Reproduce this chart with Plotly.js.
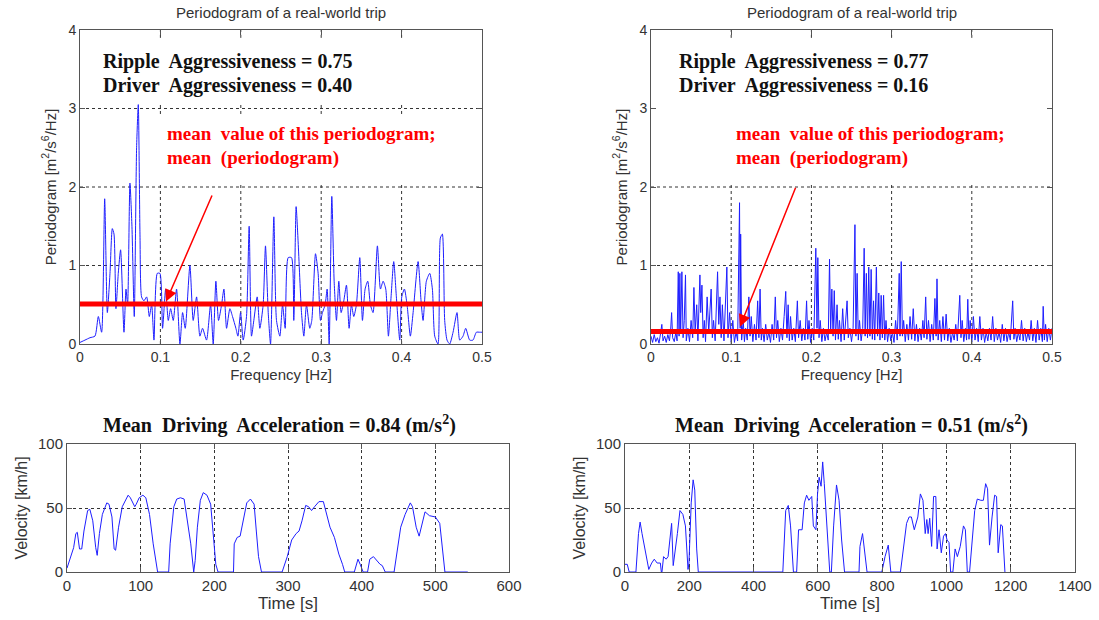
<!DOCTYPE html>
<html>
<head>
<meta charset="utf-8">
<script src="https://cdn.plot.ly/plotly-3.0.1.min.js"></script>
<style>html,body{margin:0;padding:0;background:#fff;} #chart{width:1099px;height:620px;}</style>
</head>
<body>
<div id="chart"></div>
<script>
// ---------- Data: periodogram of trip A (left) ----------
const freqA = [0,0.0062,0.0124,0.0186,0.0228,0.0269,0.0307,0.0340,0.0373,0.0402,
0.0423,0.0447,0.0476,0.0505,0.0547,0.0572,0.0592,0.0621,0.0646,0.0675,
0.0704,0.0725,0.0746,0.0766,0.0795,0.0829,0.0862,0.0891,0.0920,0.0961,
0.0994,0.1027,0.1065,0.1098,0.1127,0.1160,0.1201,0.1243,0.1276,0.1309,
0.1367,0.1408,0.1450,0.1491,0.1524,0.1574,0.1624,0.1657,0.1690,0.1723,
0.1761,0.1790,0.1823,0.1864,0.1897,0.1939,0.1964,0.1997,0.2030,0.2071,
0.2104,0.2133,0.2162,0.2204,0.2237,0.2278,0.2307,0.2341,0.2370,0.2411,
0.2444,0.2486,0.2519,0.2552,0.2589,0.2631,0.2659,0.2688,0.2713,0.2755,
0.2784,0.2817,0.2858,0.2883,0.2929,0.2962,0.2991,0.3016,0.3049,0.3074,
0.3099,0.3132,0.3161,0.3190,0.3219,0.3248,0.3281,0.3314,0.3347,0.3376,
0.3405,0.3438,0.3480,0.3513,0.3546,0.3579,0.3612,0.3645,0.3699,0.3737,
0.3770,0.3803,0.3836,0.3869,0.3902,0.3935,0.3977,0.4002,0.4035,0.4068,
0.4109,0.4143,0.4205,0.4242,0.4267,0.4308,0.4350,0.4383,0.4412,0.4453,
0.4482,0.4507,0.4536,0.4565,0.4598,0.4640,0.4689,0.4723,0.4764,0.4797,
0.4847,0.4888,0.4930,0.4971,0.5];
const psdA = [0.02,0.05,0.08,0.10,0.35,0.15,1.85,0.40,0.90,1.47,
1.40,0.45,0.90,1.20,0.15,0.70,0.50,2.05,1.50,0.35,
2.50,3.05,1.40,0.60,0.55,0.60,0.35,0.50,0.05,0.90,
0.90,0.20,0.70,0.30,0.45,0.30,0.70,0.00,0.40,0.20,
1.00,0.30,0.60,0.10,0.20,0.05,0.50,0.00,0.80,0.30,
0.50,0.70,0.20,0.45,0.35,0.20,0.10,0.40,0.05,0.35,
1.50,0.10,0.30,0.60,0.20,0.50,1.25,0.40,0.00,1.62,
0.30,0.10,0.50,0.20,1.10,1.10,0.30,1.75,1.30,0.40,
0.10,0.50,0.20,0.30,1.15,0.90,0.30,0.40,0.50,0.70,
0.00,1.88,0.80,0.30,0.80,0.40,0.55,0.75,0.20,0.50,
0.35,0.50,1.10,0.30,0.70,0.80,0.50,0.40,1.25,0.70,
0.80,0.70,0.10,0.60,1.05,0.60,0.05,0.60,0.70,0.50,
0.10,0.40,1.05,0.55,0.30,0.80,0.90,0.70,0.10,0.00,
1.35,1.40,0.30,0.05,0.00,0.15,0.40,0.05,0.10,0.20,
0.05,0.05,0.15,0.15,0.15];
const meanA = 0.51;

// ---------- Data: periodogram of trip B (right) ----------
const freqB = [0.000,0.002,0.004,0.006,0.008,0.010,0.012,0.0135,0.015,0.017,
0.019,0.021,0.023,0.0245,0.0257,0.027,0.029,0.031,0.0325,0.034,
0.035,0.036,0.037,0.0385,0.040,0.0415,0.043,0.044,0.046,0.048,
0.050,0.052,0.0535,0.055,0.057,0.0585,0.061,0.062,0.0635,0.065,
0.0665,0.068,0.070,0.072,0.075,0.0765,0.078,0.080,0.083,0.0845,
0.086,0.0875,0.089,0.091,0.0946,0.096,0.098,0.100,0.102,0.104,
0.106,0.108,0.1104,0.1112,0.1118,0.113,0.115,0.1165,0.118,0.120,
0.122,0.1235,0.125,0.127,0.129,0.131,0.133,0.1345,0.136,0.1375,
0.139,0.141,0.143,0.145,0.147,0.149,0.151,0.153,0.155,0.1565,
0.158,0.160,0.162,0.164,0.166,0.168,0.1695,0.171,0.1725,0.174,
0.176,0.178,0.180,0.1825,0.184,0.186,0.188,0.190,0.192,0.194,
0.1955,0.197,0.199,0.201,0.203,0.2055,0.207,0.208,0.2095,0.211,
0.213,0.215,0.217,0.219,0.221,0.2226,0.224,0.2255,0.227,0.2285,
0.230,0.232,0.2335,0.235,0.237,0.239,0.241,0.2445,0.246,0.248,
0.250,0.252,0.2543,0.2555,0.257,0.2585,0.260,0.262,0.264,0.2658,
0.267,0.2685,0.270,0.2715,0.273,0.2745,0.276,0.2775,0.279,0.281,
0.2825,0.284,0.2855,0.287,0.2885,0.290,0.2915,0.293,0.295,0.297,
0.299,0.301,0.303,0.305,0.307,0.3095,0.3105,0.312,0.3135,0.315,
0.317,0.319,0.321,0.323,0.325,0.327,0.329,0.331,0.333,0.335,
0.337,0.339,0.3405,0.3425,0.344,0.346,0.348,0.350,0.352,0.354,
0.3555,0.3566,0.358,0.360,0.362,0.364,0.366,0.368,0.370,0.372,
0.374,0.376,0.378,0.380,0.382,0.385,0.3865,0.388,0.390,0.392,
0.3935,0.395,0.3965,0.398,0.400,0.402,0.404,0.406,0.408,0.410,
0.412,0.414,0.416,0.418,0.420,0.422,0.424,0.426,0.428,0.430,
0.432,0.434,0.436,0.438,0.440,0.442,0.444,0.446,0.448,0.451,
0.4525,0.454,0.456,0.458,0.460,0.462,0.464,0.466,0.468,0.470,
0.472,0.474,0.476,0.478,0.480,0.482,0.484,0.486,0.488,0.489,
0.4905,0.492,0.494,0.496,0.498,0.500];
const psdB = [0.10,0.02,0.12,0.03,0.08,0.01,0.14,0.25,0.04,0.10,
0.02,0.12,0.04,0.18,0.40,0.08,0.03,0.15,0.04,0.92,
0.10,0.90,0.15,0.92,0.08,0.30,0.88,0.04,0.20,0.03,
0.30,0.08,0.72,0.15,0.50,0.04,0.88,0.40,0.75,0.08,
0.30,0.03,0.60,0.15,0.70,0.08,0.30,0.04,0.92,0.25,
0.60,0.08,0.50,0.04,0.98,0.08,0.40,0.03,0.30,0.02,
0.15,0.04,1.80,0.20,1.40,0.05,0.30,0.03,0.20,0.05,
0.60,0.10,0.35,0.03,0.25,0.05,0.55,0.08,0.70,0.05,
0.20,0.03,0.25,0.05,0.15,0.02,0.25,0.05,0.60,0.08,
0.30,0.03,0.20,0.05,0.35,0.67,0.08,0.50,0.04,0.35,
0.05,0.20,0.03,0.55,0.08,0.30,0.04,0.20,0.05,0.55,
0.06,0.30,0.02,0.20,0.05,1.22,0.20,1.10,0.08,0.30,
0.03,0.20,0.04,0.15,0.05,1.08,0.15,0.70,0.10,0.68,
0.05,0.50,0.06,0.30,0.03,0.45,0.05,0.55,0.08,0.20,
0.03,0.20,1.52,0.10,0.90,0.05,0.30,0.04,0.20,1.22,
0.10,0.90,0.08,0.98,0.10,0.95,0.06,0.55,0.05,0.98,
0.10,0.65,0.05,0.62,0.08,0.62,0.05,0.30,0.03,0.20,
0.04,0.15,0.02,0.30,0.05,0.90,0.10,1.05,0.10,0.30,
0.03,0.25,0.05,0.35,0.06,0.45,0.04,0.25,0.03,0.20,
0.05,0.30,0.08,0.60,0.06,0.30,0.03,0.25,0.05,0.58,
0.10,0.83,0.05,0.30,0.03,0.35,0.05,0.38,0.04,0.20,
0.02,0.15,0.05,0.25,0.04,0.62,0.08,0.30,0.03,0.20,
0.05,0.57,0.06,0.30,0.03,0.35,0.05,0.20,0.03,0.35,
0.05,0.20,0.02,0.15,0.04,0.20,0.05,0.35,0.03,0.20,
0.05,0.15,0.02,0.25,0.04,0.20,0.03,0.15,0.05,0.55,
0.06,0.20,0.03,0.15,0.05,0.30,0.04,0.20,0.03,0.15,
0.05,0.30,0.04,0.20,0.02,0.30,0.05,0.20,0.03,0.48,
0.05,0.25,0.03,0.20,0.05,0.20];
const meanB = 0.16;

// ---------- Data: velocity traces ----------
const timeA = [0,5,9,12,14,17,20,23,28,31,35,39,41,44,48,54,57,61,64,66,
70,75,79,83,86,92,94,98,103,107,112,117,123,138,140,145,149,154,159,163,
168,172,174,177,181,185,190,195,198,202,205,226,227,231,235,240,244,249,254,257,
260,264,292,299,305,311,315,319,324,328,332,336,342,348,353,357,363,369,374,377,
390,395,398,402,408,411,416,420,425,428,432,444,448,453,459,466,469,474,478,481,
486,492,500,506,509,513,544];
const velA = [3,13,19,30,31,18,18,32,48,49,40,19,13,30,45,54,53,43,18,17,
35,51,56,60,58,51,53,58,60,58,45,22,0,0,22,51,57,58,57,43,
22,0,9,35,56,62,60,53,32,6,0,0,22,27,28,43,54,57,53,32,
12,0,0,12,25,30,32,40,52,51,48,51,55,55,44,35,27,14,6,0,
0,10,6,0,0,10,12,9,6,5,0,0,14,35,45,54,51,35,28,35,
47,44,43,38,22,0,0];

const timeB = [0,7,13,34,42,47,53,61,70,74,83,91,100,110,113,115,120,128,134,140,
145,150,156,163,171,180,188,196,199,206,212,217,223,228,491,500,508,515,524,534,
540,551,558,565,572,581,586,594,599,604,610,615,620,629,637,642,649,658,666,674,
683,728,731,739,744,753,799,809,819,827,857,868,876,884,891,900,911,919,927,934,
939,943,948,954,960,967,971,977,984,991,997,1002,1008,1013,1020,1027,1034,1043,1053,1059,
1065,1072,1081,1088,1096,1107,1115,1122,1128,1134,1142,1150,1156,1161,1169,1174,1182];
const velB = [6,6,0,0,30,39,30,18,7,2,7,10,7,7,0,0,12,10,12,25,
38,5,15,30,48,45,36,2,7,54,72,64,18,0,0,48,52,36,0,0,
33,33,54,60,56,59,36,33,61,74,67,86,69,30,0,0,36,68,56,25,
0,0,20,30,20,0,0,12,21,0,0,25,38,43,43,33,43,61,56,30,
41,30,42,20,59,59,18,33,15,28,30,25,23,0,0,18,12,20,36,33,
0,0,25,48,57,56,56,69,65,21,43,60,59,15,37,36,0];

// ---------- Grid positions of the periodogram panels (ticks) ----------
const freqTicks = [0.1, 0.2, 0.3, 0.4];
const psdTicksA = [1, 2, 3];      // horizontal grid lines drawn on the left panel
const psdTicksB = [1, 2];         // on the right panel the "3" line is hidden by the text box
// vertical grid segments left visible between the pasted text boxes
const vSegA = [[0, 2.04], [2.93, 3.08], [3.9, 4]];
const vSegB = [[0, 2.04], [3.9, 4]];

// ---------- Text ----------
const periodogramTitle = 'Periodogram of a real-world trip';
const rippleA = 0.75, driverA = 0.40, rippleB = 0.77, driverB = 0.16;
const accA = 0.84, accB = 0.51;
const meanNote1 = 'mean\u00a0 value of this periodogram;';
const meanNote2 = 'mean\u00a0 (periodogram)';

// ---------- Styling ----------
const sans = 'Liberation Sans, Arial, sans-serif';
const serif = 'Liberation Serif, Times New Roman, serif';
const blue = 'rgb(30,30,255)';
const gridLine = {color:'#333', width:1, dash:'3px,3px'};
const W = 1099, H = 620;
function px(x){return x/W;}
function py(y){return 1-y/H;}

function axisBase(extra){
  return Object.assign({
    showline:true, mirror:'ticks', linecolor:'#555', linewidth:1,
    ticks:'inside', ticklen:5, tickcolor:'#555', tickwidth:1,
    showgrid:true, gridcolor:'#333', griddash:'3px,3px', gridwidth:1,
    zeroline:false, fixedrange:true
  }, extra);
}

function gridTrace(xa, ya, xTicks, yTicks, vSegs){
  const gx = [], gy = [];
  xTicks.forEach(t => vSegs.forEach(s => { gx.push(t, t, null); gy.push(s[0], s[1], null); }));
  yTicks.forEach(v => { gx.push(0, 0.5, null); gy.push(v, v, null); });
  return {x:gx, y:gy, xaxis:xa, yaxis:ya, type:'scatter', mode:'lines', line:gridLine,
          connectgaps:false, hoverinfo:'skip'};
}

const traces = [
  gridTrace('x','y',freqTicks,psdTicksA,vSegA),
  gridTrace('x2','y2',freqTicks,psdTicksB,vSegB),
  {x:freqA, y:psdA, xaxis:'x', yaxis:'y', type:'scatter', mode:'lines',
   line:{color:blue, width:1, shape:'spline', smoothing:0.6}, hoverinfo:'skip'},
  {x:[0,0.5], y:[meanA,meanA], xaxis:'x', yaxis:'y', type:'scatter', mode:'lines',
   line:{color:'#ff0000', width:5}, hoverinfo:'skip'},
  {x:freqB, y:psdB, xaxis:'x2', yaxis:'y2', type:'scatter', mode:'lines',
   line:{color:blue, width:1}, hoverinfo:'skip'},
  {x:[0,0.5], y:[meanB,meanB], xaxis:'x2', yaxis:'y2', type:'scatter', mode:'lines',
   line:{color:'#ff0000', width:5}, hoverinfo:'skip'},
  {x:timeA, y:velA, xaxis:'x3', yaxis:'y3', type:'scatter', mode:'lines',
   line:{color:blue, width:1}, hoverinfo:'skip'},
  {x:timeB, y:velB, xaxis:'x4', yaxis:'y4', type:'scatter', mode:'lines',
   line:{color:blue, width:1}, hoverinfo:'skip'}
];

const topTick = {family:sans, size:14, color:'#333'};
const botTick = {family:sans, size:15, color:'#333'};
const psdTitle = 'Periodogram [m<sup>2</sup>/s<sup>6</sup>/Hz]';

function txt(x, y, text, opts){
  return Object.assign({xref:'paper', yref:'paper', x:px(x), y:py(y), text:text, showarrow:false,
    xanchor:'left', yanchor:'middle', align:'left'}, opts);
}
const blackBold = {font:{family:serif, size:20, color:'#111', weight:'bold'}};
const redBold = {font:{family:serif, size:19, color:'#ff0000', weight:'bold'}};
const centerTitle = {xanchor:'center', font:{family:sans, size:15, color:'#333'}};
const botTitle = {xanchor:'center', font:{family:serif, size:20, color:'#111', weight:'bold'}};

const layout = {
  width:W, height:H, showlegend:false,
  paper_bgcolor:'#fff', plot_bgcolor:'#fff',
  margin:{l:0,r:0,t:0,b:0},
  xaxis: axisBase({domain:[px(80),px(482)], anchor:'y', range:[0,0.5], dtick:0.1, tickfont:topTick, showgrid:false,
    title:{text:'Frequency [Hz]', font:{family:sans, size:15, color:'#333'}, standoff:5}}),
  yaxis: axisBase({domain:[py(344),py(30)], anchor:'x', range:[0,4], dtick:1, tickfont:topTick, showgrid:false,
    title:{text:psdTitle, font:{family:sans, size:15, color:'#333'}, standoff:8}}),
  xaxis2: axisBase({domain:[px(651),px(1052)], anchor:'y2', range:[0,0.5], dtick:0.1, tickfont:topTick, showgrid:false,
    title:{text:'Frequency [Hz]', font:{family:sans, size:15, color:'#333'}, standoff:5}}),
  yaxis2: axisBase({domain:[py(344),py(30)], anchor:'x2', range:[0,4], dtick:1, tickfont:topTick, showgrid:false,
    title:{text:psdTitle, font:{family:sans, size:15, color:'#333'}, standoff:8}}),
  xaxis3: axisBase({domain:[px(67),px(509)], anchor:'y3', range:[0,600], dtick:100, tickfont:botTick,
    title:{text:'Time [s]', font:{family:sans, size:17, color:'#333'}, standoff:3}}),
  yaxis3: axisBase({domain:[py(572),py(444)], anchor:'x3', range:[0,100], dtick:50, tickfont:botTick,
    title:{text:'Velocity [km/h]', font:{family:sans, size:16, color:'#333'}, standoff:6}}),
  xaxis4: axisBase({domain:[px(625),px(1075)], anchor:'y4', range:[0,1400], dtick:200, tickfont:botTick,
    title:{text:'Time [s]', font:{family:sans, size:17, color:'#333'}, standoff:3}}),
  yaxis4: axisBase({domain:[py(572),py(444)], anchor:'x4', range:[0,100], dtick:50, tickfont:botTick,
    title:{text:'Velocity [km/h]', font:{family:sans, size:16, color:'#333'}, standoff:6}}),
  annotations: [
    txt(281, 12, periodogramTitle, centerTitle),
    txt(851.5, 12, periodogramTitle, centerTitle),
    txt(101, 62, 'Ripple\u00a0 Aggressiveness = ' + rippleA.toFixed(2), blackBold),
    txt(101, 86, 'Driver\u00a0 Aggressiveness = ' + driverA.toFixed(2), blackBold),
    txt(677, 61, 'Ripple\u00a0 Aggressiveness = ' + rippleB.toFixed(2), blackBold),
    txt(677, 85, 'Driver\u00a0 Aggressiveness = ' + driverB.toFixed(2), blackBold),
    txt(165, 134, meanNote1, redBold),
    txt(165, 158, meanNote2, redBold),
    txt(734, 134, meanNote1, redBold),
    txt(734, 158, meanNote2, redBold),
    {xref:'x', yref:'y', axref:'x', ayref:'y', x:0.107, y:meanA+0.03, ax:0.165, ay:1.91,
     showarrow:true, arrowhead:2, arrowsize:1.6, arrowwidth:1.5, arrowcolor:'#ff0000', text:''},
    {xref:'x2', yref:'y2', axref:'x2', ayref:'y2', x:0.111, y:meanB+0.06, ax:0.181, ay:2.01,
     showarrow:true, arrowhead:2, arrowsize:1.6, arrowwidth:1.5, arrowcolor:'#ff0000', text:''},
    txt(279, 424, 'Mean\u00a0 Driving\u00a0 Acceleration = ' + accA.toFixed(2) + ' (m/s<sup>2</sup>)', botTitle),
    txt(851, 424, 'Mean\u00a0 Driving\u00a0 Acceleration = ' + accB.toFixed(2) + ' (m/s<sup>2</sup>)', botTitle)
  ]
};

Plotly.newPlot('chart', traces, layout, {staticPlot:true, displayModeBar:false});
</script>
</body>
</html>
